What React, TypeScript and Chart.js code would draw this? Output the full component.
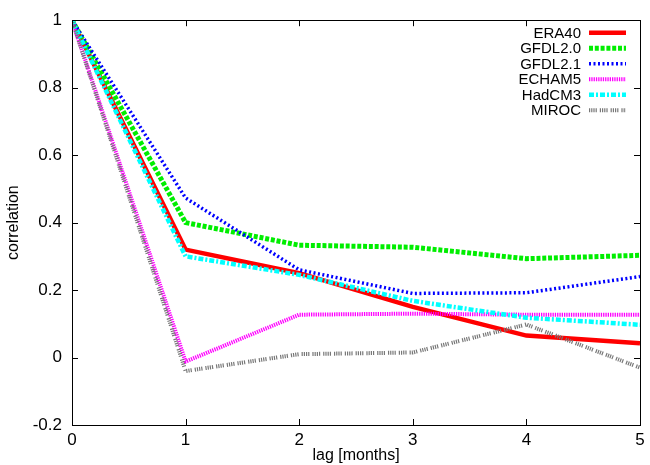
import { useEffect, useRef } from "react";
import { Chart, registerables } from "chart.js";

Chart.register(...registerables);

const lags = [0, 1, 2, 3, 4, 5];
const xTicks = [0, 1, 2, 3, 4, 5];
const yTicks = [-0.2, 0, 0.2, 0.4, 0.6, 0.8, 1];

const seriesNames = ["ERA40", "GFDL2.0", "GFDL2.1", "ECHAM5", "HadCM3", "MIROC"];
const era40 = [1, 0.32, 0.25, 0.15, 0.065, 0.042];
const gfdl20 = [1, 0.4, 0.333, 0.327, 0.293, 0.303];
const gfdl21 = [1, 0.473, 0.26, 0.19, 0.192, 0.24];
const echam5 = [1, -0.012, 0.127, 0.13, 0.127, 0.127];
const hadcm3 = [1, 0.3, 0.245, 0.168, 0.118, 0.097];
const miroc = [1, -0.04, 0.01, 0.015, 0.098, -0.03];

const seriesValues = [era40, gfdl20, gfdl21, echam5, hadcm3, miroc];
const colors = ["#ff0000", "#00ee00", "#0000ff", "#ff00ff", "#00ffff", "#777777"];
const widths = [4.5, 5, 3.5, 4, 4.5, 4];
const dashes: number[][] = [
  [],
  [4, 1.8],
  [2, 2.5],
  [1.3, 1],
  [5, 2, 2, 2],
  [1.2, 1, 1.2, 1, 1.2, 1, 1.2, 3],
];

const FONT = "'Liberation Sans', Arial, sans-serif";

const framePlugin = {
  id: "frame",
  afterDraw(chart: any) {
    const ctx = chart.ctx;
    const ca = chart.chartArea;
    const xs = chart.scales.x;
    const ys = chart.scales.y;
    ctx.save();
    ctx.strokeStyle = "#000";
    ctx.lineWidth = 1;
    ctx.beginPath();
    const tl = 6;
    xTicks.forEach((v) => {
      const px = Math.round(xs.getPixelForValue(v)) + 0.5;
      ctx.moveTo(px, ca.bottom);
      ctx.lineTo(px, ca.bottom - tl);
      ctx.moveTo(px, ca.top);
      ctx.lineTo(px, ca.top + tl);
    });
    yTicks.forEach((v) => {
      const py = Math.round(ys.getPixelForValue(v)) + 0.5;
      ctx.moveTo(ca.left, py);
      ctx.lineTo(ca.left + tl, py);
      ctx.moveTo(ca.right, py);
      ctx.lineTo(ca.right - tl, py);
    });
    ctx.stroke();
    ctx.strokeRect(
      Math.round(ca.left) + 0.5,
      Math.round(ca.top) + 0.5,
      Math.round(ca.right - ca.left),
      Math.round(ca.bottom - ca.top)
    );

    // legend
    ctx.font = `15px ${FONT}`;
    ctx.fillStyle = "#000";
    ctx.textAlign = "right";
    ctx.textBaseline = "middle";
    seriesNames.forEach((name, i) => {
      const y = ca.top + 12.5 + i * 15.5;
      ctx.fillText(name, ca.right - 59, y + 1);
      ctx.save();
      ctx.strokeStyle = colors[i];
      ctx.lineWidth = widths[i];
      ctx.setLineDash(dashes[i]);
      ctx.lineCap = "butt";
      ctx.beginPath();
      ctx.moveTo(ca.right - 51, y);
      ctx.lineTo(ca.right - 14, y);
      ctx.stroke();
      ctx.restore();
    });
    ctx.restore();
  },
};

export default function App() {
  const ref = useRef<HTMLCanvasElement | null>(null);
  useEffect(() => {
    document.body.style.margin = "0";
    const canvas = ref.current;
    if (!canvas) return;
    const chart = new Chart(canvas, {
      type: "line",
      data: {
        labels: lags,
        datasets: seriesNames.map((name, i) => ({
          label: name,
          data: lags.map((x, j) => ({ x, y: seriesValues[i][j] })),
          borderColor: colors[i],
          backgroundColor: colors[i],
          borderWidth: widths[i],
          borderDash: dashes[i],
          borderCapStyle: "butt",
          borderJoinStyle: "miter",
          pointRadius: 0,
          tension: 0,
          fill: false,
          order: 6 - i,
        })),
      },
      options: {
        animation: false,
        responsive: false,
        maintainAspectRatio: false,
        layout: { padding: { left: 0, right: 10, top: 18.5, bottom: 0 } },
        plugins: {
          legend: { display: false },
          tooltip: { enabled: false },
        },
        scales: {
          x: {
            type: "linear",
            min: 0,
            max: 5,
            afterFit(scale: any) {
              scale.height = 40;
            },
            grid: { display: false, drawTicks: false },
            border: { display: false },
            ticks: {
              stepSize: 1,
              color: "#000",
              padding: 5,
              font: { family: FONT, size: 17 },
              callback: (v: any) => String(v),
            },
            title: {
              display: true,
              text: "lag [months]",
              color: "#000",
              padding: { top: 0, bottom: 0 },
              font: { family: FONT, size: 16 },
            },
          },
          y: {
            type: "linear",
            min: -0.2,
            max: 1,
            afterFit(scale: any) {
              scale.width = 72;
            },
            grid: { display: false, drawTicks: false },
            border: { display: false },
            ticks: {
              stepSize: 0.2,
              color: "#000",
              padding: 10,
              font: { family: FONT, size: 17 },
              callback: (v: any) => String(Math.round(Number(v) * 10) / 10),
            },
            title: {
              display: true,
              text: "correlation",
              color: "#000",
              padding: { top: 4, bottom: 0 },
              font: { family: FONT, size: 16 },
            },
          },
        },
      },
      plugins: [framePlugin],
    });
    return () => chart.destroy();
  }, []);
  return (
    <div style={{ width: 650, height: 465, position: "relative" }}>
      <canvas ref={ref} width={650} height={465} style={{ display: "block" }} />
    </div>
  );
}
